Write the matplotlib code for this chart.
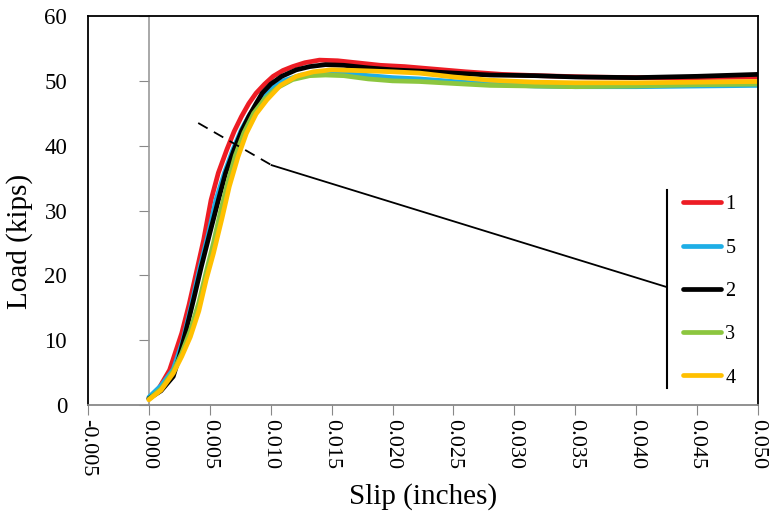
import numpy as np
import matplotlib
matplotlib.use('Agg')
import matplotlib.pyplot as plt

plt.rcParams['font.family'] = ['Liberation Serif', 'DejaVu Serif']
plt.rcParams['axes.unicode_minus'] = False

# slip (in) / load (kips), one pair of lists per specimen
slip_1 = [0.0000, 0.0008, 0.0017, 0.0027, 0.0033, 0.0040, 0.0045, 0.0051, 0.0057, 0.0064,
          0.0070, 0.0076, 0.0082, 0.0088, 0.0095, 0.0102, 0.0110, 0.0118, 0.0128, 0.0140,
          0.0155, 0.0170, 0.0190, 0.0210, 0.0235, 0.0260, 0.0290, 0.0320, 0.0360, 0.0400,
          0.0450, 0.0500]
load_1 = [1.0, 2.5, 5.4, 11.1, 15.5, 21.3, 25.5, 31.6, 35.8, 39.4,
          42.2, 44.5, 46.5, 48.1, 49.5, 50.7, 51.6, 52.2, 52.8, 53.2,
          53.1, 52.8, 52.4, 52.2, 51.8, 51.4, 51.0, 50.8, 50.6, 50.5,
          50.5, 50.6]

slip_5 = [0.0000, 0.0010, 0.0020, 0.0028, 0.0035, 0.0042, 0.0049, 0.0055, 0.0062, 0.0069,
          0.0076, 0.0083, 0.0092, 0.0100, 0.0110, 0.0125, 0.0140, 0.0155, 0.0175, 0.0200,
          0.0222, 0.0250, 0.0280, 0.0317, 0.0350, 0.0400, 0.0450, 0.0500]
load_5 = [1.2, 3.0, 5.5, 10.0, 15.5, 21.3, 26.5, 31.6, 35.8, 39.4,
          42.5, 44.9, 47.1, 48.7, 50.0, 50.9, 51.2, 51.2, 50.9, 50.5,
          50.3, 49.9, 49.5, 49.2, 49.1, 49.1, 49.2, 49.3]

slip_2 = [0.0000, 0.0010, 0.0020, 0.0025, 0.0030, 0.0037, 0.0043, 0.0050, 0.0057, 0.0063,
          0.0070, 0.0076, 0.0082, 0.0088, 0.0093, 0.0100, 0.0109, 0.0121, 0.0132, 0.0145,
          0.0160, 0.0180, 0.0200, 0.0222, 0.0250, 0.0280, 0.0317, 0.0350, 0.0400, 0.0450,
          0.0500]
load_2 = [1.0, 2.2, 4.4, 7.5, 11.1, 16.5, 21.3, 26.5, 31.6, 35.8,
          39.4, 42.2, 44.5, 46.5, 48.1, 49.5, 50.7, 51.7, 52.2, 52.5,
          52.4, 52.0, 51.7, 51.5, 51.2, 50.9, 50.8, 50.6, 50.5, 50.7,
          51.0]

slip_3 = [0.0000, 0.0010, 0.0020, 0.0027, 0.0034, 0.0041, 0.0047, 0.0053, 0.0059, 0.0065,
          0.0071, 0.0078, 0.0086, 0.0095, 0.0105, 0.0118, 0.0132, 0.0145, 0.0160, 0.0180,
          0.0200, 0.0222, 0.0250, 0.0280, 0.0317, 0.0350, 0.0400, 0.0450, 0.0500]
load_3 = [0.9, 2.5, 5.2, 8.0, 11.5, 15.8, 20.5, 25.0, 30.0, 34.5,
          38.5, 42.0, 45.0, 47.2, 48.9, 50.2, 50.8, 50.9, 50.8, 50.3,
          50.0, 49.9, 49.6, 49.3, 49.2, 49.1, 49.2, 49.4, 49.5]

slip_4 = [0.0000, 0.0010, 0.0020, 0.0027, 0.0034, 0.0041, 0.0047, 0.0053, 0.0060, 0.0066,
          0.0073, 0.0080, 0.0088, 0.0097, 0.0108, 0.0121, 0.0135, 0.0150, 0.0170, 0.0200,
          0.0222, 0.0250, 0.0280, 0.0317, 0.0350, 0.0400, 0.0450, 0.0500]
load_4 = [0.8, 2.3, 4.9, 7.5, 10.5, 14.5, 19.3, 23.4, 28.8, 33.7,
          38.2, 41.9, 44.9, 47.1, 49.3, 50.7, 51.4, 51.7, 51.6, 51.4,
          51.2, 50.6, 50.1, 49.8, 49.7, 49.7, 49.8, 49.9]

labels = ['1', '5', '2', '3', '4']
colors = ['#ED1C24', '#1EAEE6', '#000000', '#8CC63F', '#FFC000']
series = [(slip_1, load_1), (slip_5, load_5), (slip_2, load_2),
          (slip_3, load_3), (slip_4, load_4)]

x_ticks = [-0.005, 0.000, 0.005, 0.010, 0.015, 0.020, 0.025,
           0.030, 0.035, 0.040, 0.045, 0.050]
y_ticks = [0, 10, 20, 30, 40, 50, 60]

# leader line from the curves to the legend bracket
lead_dash_x = [0.00405, 0.01007]
lead_dash_y = [43.5, 37.0]
lead_solid_x = [0.01007, 0.0425]
lead_solid_y = [37.0, 18.2]
bracket_x = [0.0425, 0.0425]
bracket_y = [33.1, 2.6]

fig = plt.figure(figsize=(7.73, 5.17), dpi=100)
ax = fig.add_axes([0.1138, 0.2166, 0.8668, 0.7524])

lines = []
for (sx, ld), lab, col in zip(series, labels, colors):
    ln, = ax.plot(sx, ld, color=col, lw=3.4, label=lab, solid_capstyle='round')
    lines.append(ln)

ax.plot(lead_dash_x, lead_dash_y, color='black', lw=1.3, dashes=(6, 4))
ax.plot(lead_solid_x, lead_solid_y, color='black', lw=1.3)
ax.plot(bracket_x, bracket_y, color='black', lw=1.5)

ax.set_xlim(-0.005, 0.050)
ax.set_ylim(0, 60)
ax.set_xticks(x_ticks)
ax.set_xticklabels(['%.3f' % v for v in x_ticks], rotation=270, fontsize=16)
ax.set_yticks(y_ticks)
ax.set_yticklabels([str(v) for v in y_ticks], fontsize=16.5)

ax.tick_params(axis='x', direction='out', length=7, color='#888888', pad=3)
ax.tick_params(axis='y', length=0, pad=15)

for s in ['top', 'left', 'right']:
    ax.spines[s].set_color('black')
    ax.spines[s].set_linewidth(1.3)
ax.spines['bottom'].set_color('#888888')
ax.spines['bottom'].set_linewidth(1.3)

# vertical axis crosses at slip = 0
sec = ax.secondary_yaxis(0.005 / 0.055)
sec.set_yticks(y_ticks)
sec.tick_params(axis='y', direction='out', length=7, color='#888888', labelleft=False)
sec.spines['left'].set_color('#999999')
sec.spines['left'].set_linewidth(1.2)

ax.set_xlabel('Slip (inches)', fontsize=21)
ax.set_ylabel('Load (kips)', fontsize=21)
ax.xaxis.set_label_coords(0.5, -0.2)
ax.yaxis.set_label_coords(-0.082, 0.42)

ax.legend(handles=lines, loc='upper left', bbox_to_anchor=(0.888, 0.539),
          frameon=False, fontsize=14.5, handlelength=1.9, handletextpad=0.2,
          labelspacing=1.2, borderpad=0, borderaxespad=0)

fig.savefig('out.png', dpi=100)
